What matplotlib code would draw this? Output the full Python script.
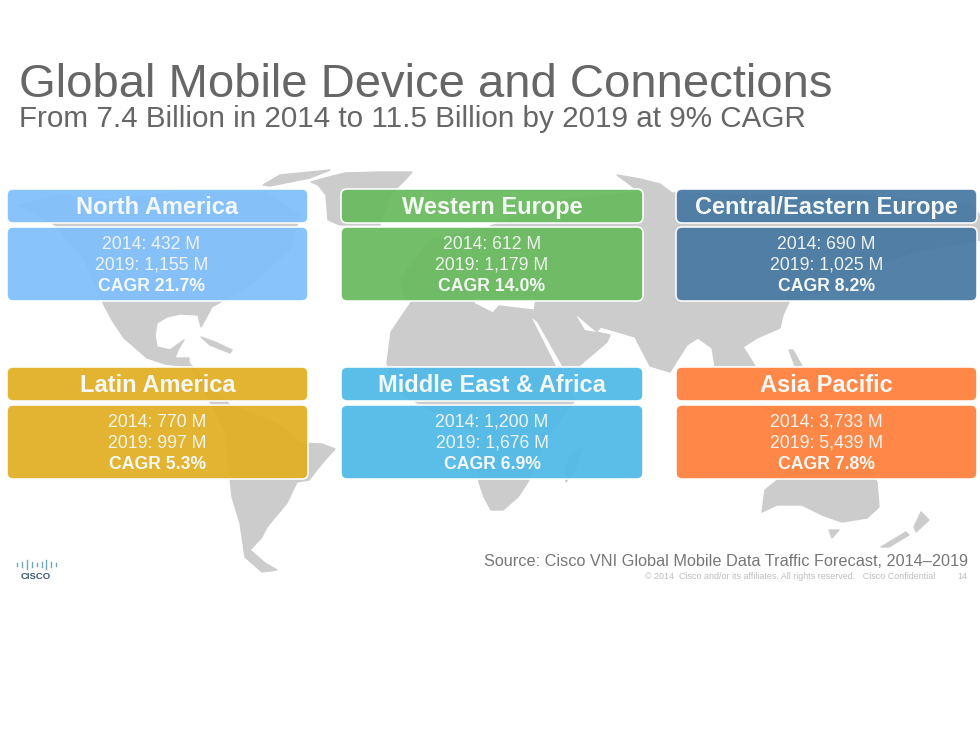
import matplotlib
matplotlib.use("Agg")
import matplotlib.pyplot as plt
from matplotlib.patches import FancyBboxPatch, Polygon

plt.rcParams['font.family'] = ['Liberation Sans', 'DejaVu Sans']

# Data
regions = ["North America", "Western Europe", "Central/Eastern Europe",
           "Latin America", "Middle East & Africa", "Asia Pacific"]
devices_2014 = ["432", "612", "690", "770", "1,200", "3,733"]
devices_2019 = ["1,155", "1,179", "1,025", "997", "1,676", "5,439"]
cagr = ["21.7", "14.0", "8.2", "5.3", "6.9", "7.8"]
box_colors = ["#82C0FC", "#6BBB60", "#4A7AA2", "#E1B026", "#52BBE7", "#FF823E"]

# Map outlines, pixel positions
north_america = [(20, 205), (60, 195), (110, 200), (180, 192), (265, 192), (300, 215), (290, 250),
                 (250, 285), (212, 307), (206, 318), (201, 327), (198, 315), (180, 314), (167, 317),
                 (157, 323), (155, 335), (157, 347), (170, 350), (184, 340), (178, 350), (175, 358),
                 (189, 358), (189, 367), (165, 364), (147, 358), (124, 338), (112, 320), (104, 305),
                 (85, 260), (55, 225)]
arctic = [(263, 185), (280, 175), (330, 170), (310, 178), (285, 183), (270, 186)]
greenland = [(311, 182), (325, 178), (345, 173), (380, 172), (412, 172), (405, 180), (390, 195),
             (380, 225), (340, 225), (328, 220), (326, 195), (318, 185)]
russia_north = [(617, 175), (640, 179), (660, 184), (672, 193), (640, 192)]
eurasia = [(560, 200), (640, 192), (672, 193), (737, 195), (860, 195), (970, 205), (980, 215),
           (980, 240), (920, 250), (880, 262), (850, 285), (790, 300), (783, 315), (780, 328), (757, 338),
           (743, 347), (755, 366), (715, 366), (712, 348), (698, 338), (687, 345), (670, 372), (650, 366),
           (635, 337), (601, 327), (596, 332), (610, 335), (607, 342), (579, 366), (562, 366), (533, 320),
           (536, 298), (471, 298), (440, 298), (407, 300), (400, 280), (430, 240), (480, 230), (520, 215)]
persian_gulf = [(576, 315), (596, 332), (585, 330)]
red_sea = [(532, 318), (537, 322), (562, 366), (556, 366)]
africa = [(414, 298), (471, 298), (475, 304), (493, 313), (499, 306), (533, 310), (533, 320), (559, 366),
          (575, 400), (545, 440), (528, 482), (518, 497), (503, 510), (491, 510), (484, 497), (479, 482),
          (470, 430), (430, 410), (395, 390), (387, 363), (391, 332)]
madagascar = [(583, 447), (575, 470), (566, 482), (565, 470), (572, 452)]
south_america = [(189, 363), (230, 405), (280, 425), (300, 443), (322, 444), (335, 449), (325, 460),
                 (309, 480), (297, 482), (287, 503), (267, 527), (262, 537), (250, 550), (265, 563),
                 (277, 570), (262, 572), (245, 557), (240, 523), (232, 497), (225, 430)]
cuba = [(201, 337), (215, 342), (232, 350), (230, 353), (210, 345)]
australia = [(765, 490), (790, 470), (815, 445), (835, 450), (850, 440), (877, 482), (879, 507), (867, 518),
             (842, 522), (822, 515), (802, 505), (777, 505), (762, 512)]
tasmania = [(829, 530), (839, 530), (832, 538)]
nz_north = [(921, 512), (929, 520), (916, 532), (914, 527)]
nz_south = [(881, 547), (906, 532), (909, 535), (889, 547)]
sumatra = [(789, 350), (793, 350), (802, 366), (795, 366)]
indonesia = [(760, 405), (800, 410), (850, 425), (850, 435), (780, 425)]
land = [north_america, arctic, greenland, russia_north, eurasia, africa, madagascar, south_america,
        cuba, australia, tasmania, nz_north, nz_south, sumatra, indonesia]

logo_bars = [3, 5, 9, 5, 3, 5, 9, 5, 3]

fig = plt.figure(figsize=(9.8, 7.35), dpi=100)
ax = fig.add_axes([0, 0, 1, 1])
ax.set_xlim(0, 980)
ax.set_ylim(735, 0)
ax.axis("off")

for outline in land:
    ax.add_patch(Polygon(outline, closed=True, fc="#CCCCCC", ec="#CCCCCC", lw=1, joinstyle="round", zorder=1))
for water in [persian_gulf, red_sea]:
    ax.add_patch(Polygon(water, closed=True, fc="white", ec="none", zorder=1.5))

ax.text(19, 97, "Global Mobile Device and Connections", fontsize=34, color="#666666", va="baseline")
ax.text(19, 127, "From 7.4 Billion in 2014 to 11.5 Billion by 2019 at 9% CAGR",
        fontsize=21.35, color="#666666", va="baseline")

col_left = [7, 341, 676]
col_width = [301, 302, 301]
row_top = [189, 367]
body_offset = [-6, 0, 0, 0, 0, 0]

for i in range(len(regions)):
    col = i % 3
    row = i // 3
    x0 = col_left[col]
    w = col_width[col]
    top = row_top[row]
    xc = x0 + w / 2
    for y0, h in [(top, 34), (top + 38, 74)]:
        ax.add_patch(FancyBboxPatch((x0 + 4, y0 + 4), w - 8, h - 8,
                                    boxstyle="round,pad=4,rounding_size=6",
                                    fc=box_colors[i], ec="white", lw=1.2, alpha=0.95, zorder=2))
    xb = xc + body_offset[i]
    ax.text(xc, top + 18, regions[i], fontsize=17, fontweight="bold", color="#F4F8F4",
            ha="center", va="center", zorder=3)
    ax.text(xb, top + 55, "2014: " + devices_2014[i] + " M", fontsize=12.7, color="#EEF3EE",
            ha="center", va="center", zorder=3)
    ax.text(xb, top + 76, "2019: " + devices_2019[i] + " M", fontsize=12.7, color="#EEF3EE",
            ha="center", va="center", zorder=3)
    ax.text(xb, top + 97, "CAGR " + cagr[i] + "%", fontsize=12.7, fontweight="bold", color="#F4F8F4",
            ha="center", va="center", zorder=3)

ax.text(968, 566, "Source: Cisco VNI Global Mobile Data Traffic Forecast, 2014\u20132019",
        fontsize=11.7, color="#777777", ha="right", va="baseline", zorder=3)
ax.text(935, 579, "\u00a9 2014  Cisco and/or its affiliates. All rights reserved.   Cisco Confidential",
        fontsize=6.4, color="#BDBDBD", ha="right", va="baseline", zorder=3)
ax.text(967, 579, "14", fontsize=6.4, color="#BDBDBD", ha="right", va="baseline", zorder=3)

# Cisco logo
for k, bar in enumerate(logo_bars):
    x = 17 + k * 4.9
    ax.plot([x, x], [564.5 - bar / 2, 564.5 + bar / 2], color="#6FA8B8", lw=1, zorder=3)
ax.text(36, 579, "CISCO", fontsize=6.8, fontweight="bold", color="#3E5A70", ha="center", va="baseline", zorder=3)

fig.savefig("out.png", dpi=100)
